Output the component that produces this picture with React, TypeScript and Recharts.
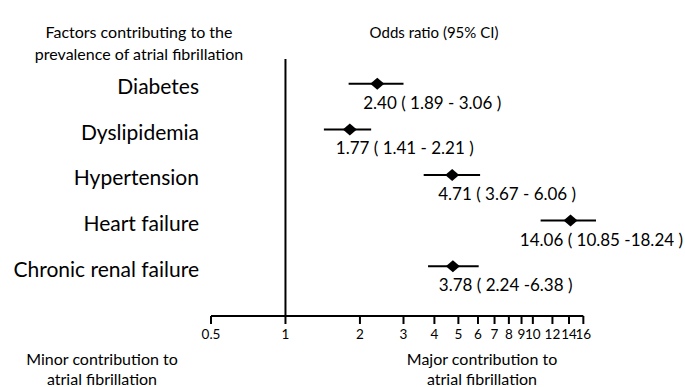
import { ScatterChart, Scatter, XAxis, YAxis, ErrorBar, ReferenceLine } from 'recharts';

// rows top to bottom
const factors = ['Diabetes', 'Dyslipidemia', 'Hypertension', 'Heart failure', 'Chronic renal failure'];
const oddsRatio = [2.35, 1.82, 4.72, 14.2, 4.75];
const ciLow = [1.8, 1.43, 3.62, 10.75, 3.77];
const ciHigh = [3.0, 2.22, 6.12, 18.0, 6.04];
// printed labels
const ciLabels = [
  '2.40 ( 1.89 - 3.06 )',
  '1.77 ( 1.41 - 2.21 )',
  '4.71 ( 3.67 - 6.06 )',
  '14.06 ( 10.85 -18.24 )',
  '3.78 ( 2.24 -6.38 )',
];
const xTicks = [0.5, 1, 2, 3, 4, 5, 6, 7, 8, 9, 10, 12, 14, 16];

const W = 685;
const H = 387;
const FONT = 'Lato, "Noto Sans", sans-serif';

const data = factors.map((factor, i) => ({
  factor,
  or: oddsRatio[i],
  err: [oddsRatio[i] - ciLow[i], ciHigh[i] - oddsRatio[i]],
  label: ciLabels[i],
}));

const Marker = (props: any) => {
  const { cx, cy, payload } = props;
  const nearEdge = cx + 160 > W;
  return (
    <g>
      <polygon
        points={`${cx - 7},${cy} ${cx},${cy - 6} ${cx + 7},${cy} ${cx},${cy + 6}`}
        fill="#000"
      />
      <text
        x={nearEdge ? W - 2 : cx - 14}
        y={cy + 19}
        dy="0.35em"
        textAnchor={nearEdge ? 'end' : 'start'}
        fontSize={17}
        fontFamily={FONT}
        fill="#000"
      >
        {payload.label}
      </text>
    </g>
  );
};

const FactorTick = (props: any) => {
  const { x, y, payload } = props;
  return (
    <text x={x} y={y + 3} dy="0.35em" textAnchor="end" fontSize={21} fontFamily={FONT} fill="#000">
      {payload.value}
    </text>
  );
};

const Caption = ({ cx, cy, lines, size, lh }: { cx: number; cy: number; lines: string[]; size: number; lh: number }) => (
  <div
    style={{
      position: 'absolute',
      left: cx - 150,
      top: cy - lh / 2,
      width: 300,
      textAlign: 'center',
      fontFamily: FONT,
      fontSize: size,
      lineHeight: `${lh}px`,
      color: '#000',
      whiteSpace: 'nowrap',
    }}
  >
    {lines.map((l) => (
      <div key={l}>{l}</div>
    ))}
  </div>
);

export default function App() {
  return (
    <div style={{ position: 'absolute', left: 0, top: 0, width: W, height: H, overflow: 'hidden', background: '#fff' }}>
      <ScatterChart width={W} height={H} margin={{ top: 59, right: 89, bottom: 0, left: 0 }}>
        <XAxis
          dataKey="or"
          type="number"
          scale="log"
          domain={[0.5, 18]}
          ticks={xTicks}
          interval={0}
          height={71}
          axisLine={false}
          tickSize={8}
          tickMargin={5}
          tickLine={{ stroke: '#000', strokeWidth: 2 }}
          tick={{ fill: '#000', fontSize: 13.5, fontFamily: FONT }}
        />
        <YAxis
          dataKey="factor"
          type="category"
          allowDuplicatedCategory={false}
          reversed
          width={211}
          padding={{ top: 2, bottom: 27 }}
          axisLine={false}
          tickLine={false}
          tickSize={0}
          tickMargin={12}
          tick={<FactorTick />}
        />
        <YAxis yAxisId="frame" type="number" domain={[0, 1]} allowDataOverflow hide />
        <ReferenceLine x={1} stroke="#000" strokeWidth={2} />
        <ReferenceLine
          yAxisId="frame"
          ifOverflow="visible"
          segment={[
            { x: xTicks[0], y: 0 },
            { x: xTicks[xTicks.length - 1], y: 0 },
          ]}
          stroke="#000"
          strokeWidth={2}
        />
        <Scatter data={data} shape={<Marker />} isAnimationActive={false}>
          <ErrorBar dataKey="err" direction="x" width={0} stroke="#000" strokeWidth={2} />
        </Scatter>
      </ScatterChart>
      <Caption cx={139} cy={32} size={16} lh={22} lines={['Factors contributing to the', 'prevalence of atrial fibrillation']} />
      <Caption cx={434} cy={32} size={15} lh={20} lines={['Odds ratio (95% CI)']} />
      <Caption cx={102} cy={359} size={16} lh={20} lines={['Minor contribution to', 'atrial fibrillation']} />
      <Caption cx={482} cy={359} size={16} lh={20} lines={['Major contribution to', 'atrial fibrillation']} />
    </div>
  );
}
